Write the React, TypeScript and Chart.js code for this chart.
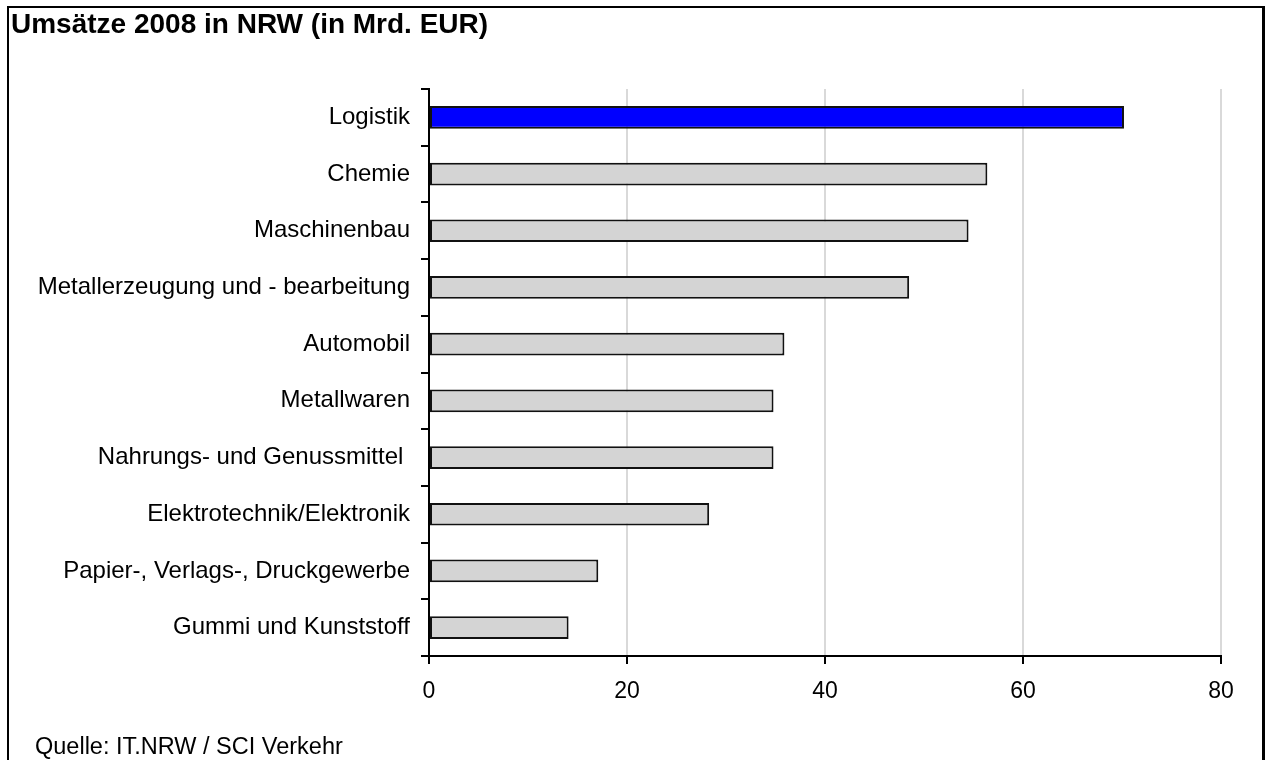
import React, { useEffect, useRef } from "react";
import { Chart, registerables } from "chart.js";

Chart.register(...registerables);

const categories = [
  "Logistik",
  "Chemie",
  "Maschinenbau",
  "Metallerzeugung und - bearbeitung",
  "Automobil",
  "Metallwaren",
  "Nahrungs- und Genussmittel ",
  "Elektrotechnik/Elektronik",
  "Papier-, Verlags-, Druckgewerbe",
  "Gummi und Kunststoff",
];
const values = [70.2, 56.4, 54.5, 48.5, 35.9, 34.8, 34.8, 28.3, 17.1, 14.1];
const highlightCategory = "Logistik";
const xTicks = [0, 20, 40, 60, 80];
const titleText = "Umsätze 2008 in NRW (in Mrd. EUR)";
const sourceText = "Quelle: IT.NRW / SCI Verkehr";

const FONT = "'Liberation Sans', Arial, Helvetica, sans-serif";

export default function App() {
  const canvasRef = useRef<HTMLCanvasElement | null>(null);

  useEffect(() => {
    if (!canvasRef.current) return;
    const chart = new Chart(canvasRef.current, {
      type: "bar",
      data: {
        labels: categories,
        datasets: [
          {
            data: values,
            backgroundColor: categories.map((c) => (c === highlightCategory ? "#0000ff" : "#d4d4d4")),
            borderColor: "#111111",
            borderWidth: 2,
            borderSkipped: false,
            barPercentage: 0.4,
            categoryPercentage: 1,
          },
        ],
      },
      options: {
        indexAxis: "y",
        animation: false,
        responsive: true,
        maintainAspectRatio: false,
        layout: { padding: { left: 0, top: 89, right: 45, bottom: 0 } },
        plugins: { legend: { display: false }, tooltip: { enabled: false }, title: { display: false } },
        scales: {
          x: {
            type: "linear",
            min: xTicks[0],
            max: xTicks[xTicks.length - 1],
            afterBuildTicks: (scale: any) => {
              scale.ticks = xTicks.map((v) => ({ value: v }));
            },
            afterFit: (scale: any) => {
              scale.height = 104;
            },
            ticks: {
              color: "#000",
              font: { family: FONT, size: 23 },
              padding: 14,
              maxRotation: 0,
            },
            grid: {
              color: "#d9d9d9",
              lineWidth: 2,
              tickColor: "#000",
              tickWidth: 2,
              tickLength: 8,
            },
            border: { display: true, color: "#000", width: 2 },
          },
          y: {
            type: "category",
            afterFit: (scale: any) => {
              scale.width = 429;
            },
            ticks: {
              color: "#000",
              font: { family: FONT, size: 24 },
              padding: 11,
              autoSkip: false,
            },
            grid: {
              drawOnChartArea: false,
              color: "#000",
              lineWidth: 2,
              tickLength: 8,
            },
            border: { display: true, color: "#000", width: 2 },
          },
        },
      },
    });
    return () => chart.destroy();
  }, []);

  return (
    <div>
      <div
        style={{
          position: "fixed",
          left: 7,
          top: 6,
          width: 1258,
          height: 800,
          boxSizing: "border-box",
          border: "2px solid #000",
          borderRightWidth: 3,
          background: "#fff",
        }}
      />
      <div style={{ position: "fixed", left: 0, top: 0, width: 1266, height: 760 }}>
        <canvas ref={canvasRef} />
      </div>
      <div
        style={{
          position: "fixed",
          left: 11,
          top: 9.6,
          fontFamily: FONT,
          fontWeight: "bold",
          fontSize: 28,
          lineHeight: "28px",
          color: "#000",
          whiteSpace: "nowrap",
        }}
      >
        {titleText}
      </div>
      <div
        style={{
          position: "fixed",
          left: 35,
          top: 735,
          fontFamily: FONT,
          fontSize: 23.5,
          lineHeight: "23.5px",
          color: "#000",
          whiteSpace: "nowrap",
        }}
      >
        {sourceText}
      </div>
    </div>
  );
}
